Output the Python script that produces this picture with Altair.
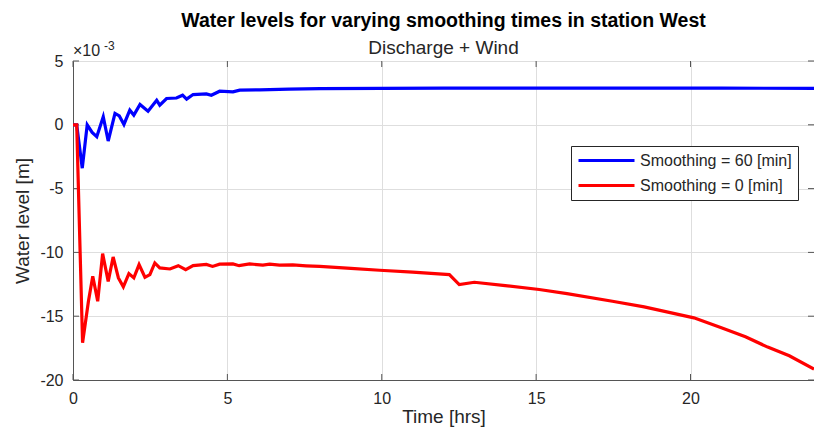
import altair as alt
import pandas as pd

# Water level (x 1e-3 m) at station West, smoothing window 60 min
t_smooth60 = [0, 0.12, 0.30, 0.46, 0.62, 0.77, 0.98, 1.14, 1.36, 1.50, 1.65, 1.84, 1.97,
              2.17, 2.43, 2.71, 2.81, 3.03, 3.35, 3.55, 3.68, 3.89, 4.32, 4.48, 4.75,
              5.18, 5.40, 6.05, 7.0, 8.0, 10.0, 12.0, 15.0, 18.0, 21.0, 24.0]
wl_smooth60 = [0, 0, -3.4, 0.0, -0.6, -0.93, 0.63, -1.27, 0.89, 0.70, 0.03, 1.15, 0.76,
               1.59, 1.07, 1.93, 1.54, 2.06, 2.10, 2.32, 2.01, 2.37, 2.42, 2.32, 2.63,
               2.58, 2.72, 2.74, 2.80, 2.83, 2.86, 2.87, 2.88, 2.88, 2.87, 2.86]

# Water level (x 1e-3 m) at station West, no smoothing
t_smooth0 = [0, 0.12, 0.31, 0.50, 0.64, 0.80, 0.96, 1.14, 1.30, 1.47, 1.63, 1.81, 1.97,
             2.14, 2.33, 2.49, 2.65, 2.81, 3.14, 3.41, 3.65, 3.89, 4.32, 4.52, 4.75,
             5.18, 5.38, 5.72, 6.15, 6.37, 6.69, 7.12, 7.55, 7.99, 9.0, 9.93, 11.0,
             12.19, 12.51, 13.0, 14.0, 15.1, 16.0, 17.47, 18.5, 20.11, 21.0, 21.78,
             22.5, 23.2, 24.0]
wl_smooth0 = [0, 0, -17.08, -13.83, -11.87, -13.83, -10.1, -12.27, -10.36, -12.0, -12.7,
              -11.66, -12.0, -10.96, -11.95, -11.74, -10.83, -11.22, -11.3, -11.04,
              -11.35, -11.04, -10.94, -11.1, -10.92, -10.9, -11.04, -10.9, -11.0,
              -10.92, -11.0, -10.98, -11.05, -11.1, -11.25, -11.4, -11.55, -11.74,
              -12.52, -12.34, -12.6, -12.91, -13.23, -13.83, -14.27, -15.13, -15.9,
              -16.61, -17.42, -18.1, -19.15]

series_names = ["Smoothing = 60 [min]", "Smoothing = 0 [min]"]
series_colors = ["#0000ff", "#ff0000"]

x_ticks = [0, 5, 10, 15, 20]
y_ticks = [5, 0, -5, -10, -15, -20]

df = pd.concat([
    pd.DataFrame({"time": t_smooth60, "level": wl_smooth60, "series": series_names[0]}),
    pd.DataFrame({"time": t_smooth0, "level": wl_smooth0, "series": series_names[1]}),
])

FONT = "Liberation Sans"
TXT = "#262626"
W, H = 741, 319

x_scale = alt.Scale(domain=[0, 24], nice=False, zero=False)
y_scale = alt.Scale(domain=[-20, 5], nice=False, zero=False)

# plain hyphen for negative tick labels
plain_label = "'' + datum.value"

lines = alt.Chart(df).mark_line(strokeWidth=3.2, clip=True).encode(
    x=alt.X("time:Q", scale=x_scale,
            axis=alt.Axis(values=x_ticks, title="Time [hrs]", titleY=42,
                          titleBaseline="alphabetic", labelExpr=plain_label)),
    y=alt.Y("level:Q", scale=y_scale,
            axis=alt.Axis(values=y_ticks, title="Water level [m]", titleX=-45,
                          titleY=H / 2, titleBaseline="alphabetic",
                          labelExpr=plain_label)),
    color=alt.Color("series:N",
                    scale=alt.Scale(domain=series_names, range=series_colors),
                    legend=alt.Legend(title=None, orient="none", legendX=498, legendY=85,
                                      symbolType="M-4,0H4", symbolSize=196,
                                      symbolOffset=21, symbolStrokeWidth=3,
                                      labelFontSize=16, labelFont=FONT, labelColor=TXT,
                                      padding=6, rowPadding=8, labelOffset=25,
                                      strokeColor="#262626", fillColor="white")),
)

# inward tick marks on all four sides of the box
xt = pd.DataFrame({"v": x_ticks})
yt = pd.DataFrame({"v": y_ticks})
tick_style = dict(color="#555555", strokeWidth=1)
ticks_bottom = alt.Chart(xt).mark_rule(**tick_style).encode(
    x=alt.X("v:Q", scale=x_scale), y=alt.value(H), y2=alt.value(H - 6))
ticks_top = alt.Chart(xt).mark_rule(**tick_style).encode(
    x=alt.X("v:Q", scale=x_scale), y=alt.value(0), y2=alt.value(6))
ticks_left = alt.Chart(yt).mark_rule(**tick_style).encode(
    y=alt.Y("v:Q", scale=y_scale), x=alt.value(0), x2=alt.value(6))
ticks_right = alt.Chart(yt).mark_rule(**tick_style).encode(
    y=alt.Y("v:Q", scale=y_scale), x=alt.value(W), x2=alt.value(W - 6))

# exponent note for the y axis
exp_base = alt.Chart(pd.DataFrame({"t": ["\u00d710"]})).mark_text(
    font=FONT, fontSize=16, color=TXT, align="left", baseline="alphabetic"
).encode(text="t:N", x=alt.value(0), y=alt.value(-5))
exp_power = alt.Chart(pd.DataFrame({"t": ["-3"]})).mark_text(
    font=FONT, fontSize=12, color=TXT, align="left", baseline="alphabetic"
).encode(text="t:N", x=alt.value(31), y=alt.value(-11))

chart = alt.layer(
    ticks_bottom, ticks_top, ticks_left, ticks_right, lines, exp_base, exp_power
).properties(
    width=W, height=H,
    background="white",
    padding={"left": 73, "top": 61, "right": 0, "bottom": 61},
    autosize=alt.AutoSizeParams(type="none"),
    title=alt.Title("Water levels for varying smoothing times in station West",
                    subtitle="Discharge + Wind", anchor="middle",
                    font=FONT, fontSize=19.5, fontWeight="bold", color="#000000",
                    subtitleFont=FONT, subtitleFontSize=19, subtitleColor=TXT,
                    subtitlePadding=8, offset=-19),
).configure_view(
    stroke="#555555", strokeWidth=1
).configure_axis(
    grid=True, gridColor="#dedede", gridWidth=1,
    domain=True, domainColor="#555555", domainWidth=1,
    ticks=False, labelPadding=10, labelFlush=False,
    labelFont=FONT, labelFontSize=16, labelColor=TXT,
    titleFont=FONT, titleFontSize=19, titleColor=TXT, titleFontWeight="normal",
)

chart.save("out.html", embed_options={"renderer": "svg", "actions": False})
